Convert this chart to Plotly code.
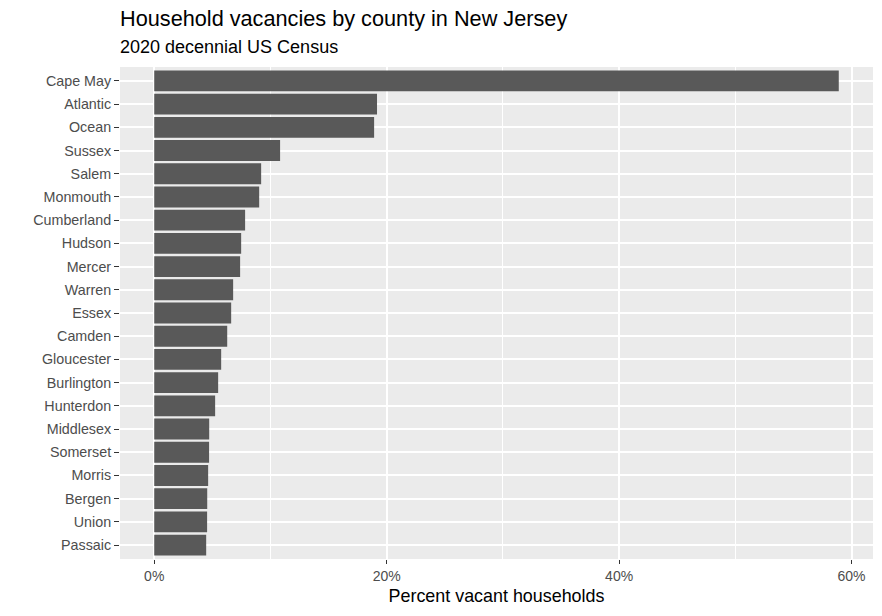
import plotly.graph_objects as go

counties = ["Cape May", "Atlantic", "Ocean", "Sussex", "Salem", "Monmouth", "Cumberland",
            "Hudson", "Mercer", "Warren", "Essex", "Camden", "Gloucester", "Burlington",
            "Hunterdon", "Middlesex", "Somerset", "Morris", "Bergen", "Union", "Passaic"]
pct_vacant = [58.9, 19.17, 18.92, 10.83, 9.2, 9.03, 7.82,
              7.48, 7.39, 6.79, 6.62, 6.28, 5.76, 5.50,
              5.24, 4.73, 4.72, 4.64, 4.56, 4.55, 4.47]
x_ticks = [0, 20, 40, 60]
x_tick_labels = ["0%", "20%", "40%", "60%"]

# reverse so largest at top
cats = counties[::-1]
vals = pct_vacant[::-1]

FONT = "Liberation Sans, Arial, sans-serif"

fig = go.Figure(go.Bar(
    x=vals, y=cats, orientation="h",
    marker=dict(color="#595959", line=dict(width=0)),
    width=0.9,
    hoverinfo="skip",
))

xmax = max(pct_vacant)
pad = 0.05 * xmax
fig.update_layout(
    width=882, height=616,
    margin=dict(l=120, r=9, t=67, b=57, autoexpand=False),
    paper_bgcolor="white",
    plot_bgcolor="#EBEBEB",
    showlegend=False,
    font=dict(family=FONT, color="#4D4D4D"),
)
fig.update_xaxes(
    range=[-pad, xmax + pad],
    tickvals=x_ticks, ticktext=x_tick_labels,
    tickfont=dict(size=14, color="#4D4D4D"),
    ticks="outside", ticklen=4, tickcolor="#333333", tickwidth=1,
    showgrid=True, gridcolor="white", gridwidth=1.6,
    minor=dict(tickvals=[10, 30, 50], showgrid=True, gridcolor="white", gridwidth=0.8, ticks=""),
    zeroline=False, showline=False,
    title=dict(text="Percent vacant households", font=dict(size=17.9, color="black"), standoff=6),
    fixedrange=True,
)
fig.update_yaxes(
    type="category",
    categoryorder="array", categoryarray=cats,
    range=[-0.6, len(cats) - 1 + 0.6],
    tickfont=dict(size=14.3, color="#4D4D4D"),
    ticks="outside", ticklen=5, tickcolor="#333333", tickwidth=1,
    showgrid=True, gridcolor="white", gridwidth=1.6,
    zeroline=False, showline=False,
    ticklabelstandoff=0,
    fixedrange=True,
)
fig.add_annotation(
    text="Household vacancies by county in New Jersey",
    xref="paper", yref="paper", x=0, y=1, xshift=-2, yshift=49,
    xanchor="left", yanchor="middle", showarrow=False,
    font=dict(family=FONT, size=21.7, color="black"),
)
fig.add_annotation(
    text="2020 decennial US Census",
    xref="paper", yref="paper", x=0, y=1, xshift=-2, yshift=20,
    xanchor="left", yanchor="middle", showarrow=False,
    font=dict(family=FONT, size=18, color="black"),
)

fig.write_html("out.html", config={"displayModeBar": False},
               post_script="document.body.style.margin='0';")
